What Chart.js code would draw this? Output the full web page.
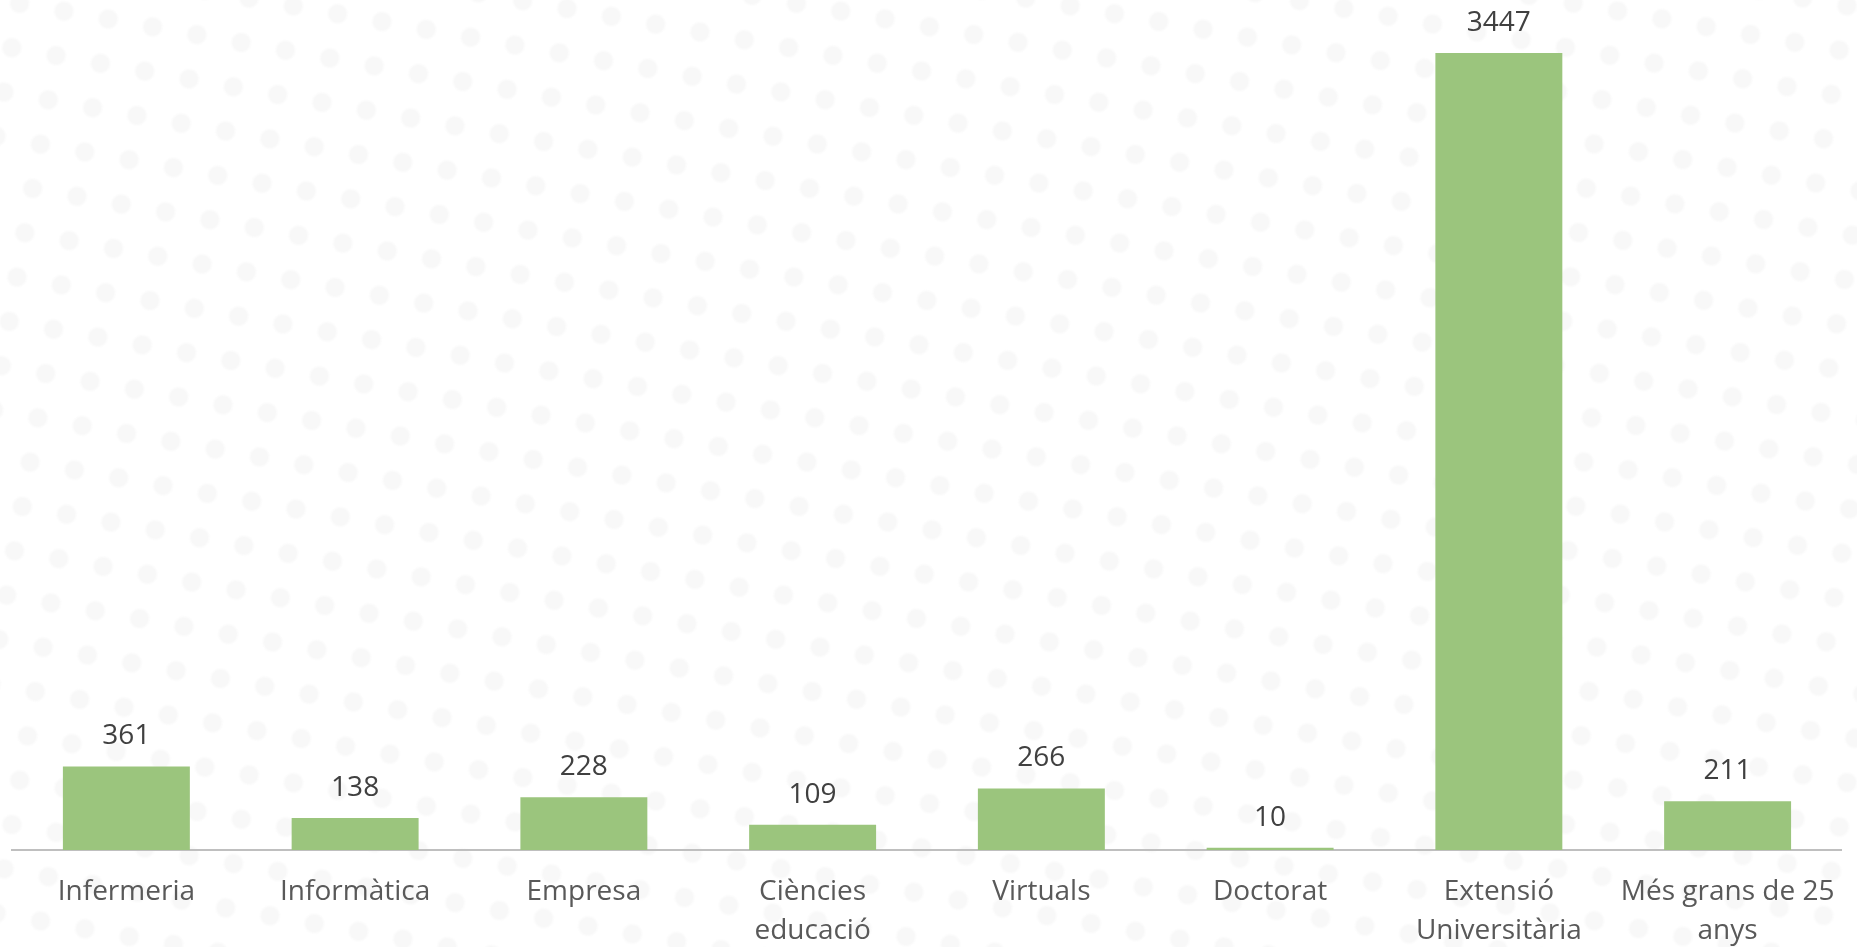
<!DOCTYPE html>
<html>
<head>
<meta charset="utf-8">
<script src="https://cdn.jsdelivr.net/npm/chart.js@4.4.0/dist/chart.umd.min.js"></script>
<style>
  html, body { margin: 0; padding: 0; background: #fff; overflow: hidden; }
  #wrap { position: relative; width: 1857px; height: 947px; overflow: hidden; }
  #dots {
    position: absolute; left: -300px; top: -300px; width: 2500px; height: 1600px;
    background-image: radial-gradient(circle, #f8f8f8 8px, rgba(255,255,255,0) 11px);
    background-size: 45px 45px;
    transform: rotate(10deg);
  }
  canvas { position: absolute; left: 0; top: 0; }
</style>
</head>
<body>
<div id="wrap">
  <div id="dots"></div>
  <canvas id="chart" width="1857" height="947"></canvas>
</div>
<script>
const categories = [
  'Infermeria',
  'Informàtica',
  'Empresa',
  ['Ciències', 'educació'],
  'Virtuals',
  'Doctorat',
  ['Extensió', 'Universitària'],
  ['Més grans de 25', 'anys']
];
const values = [361, 138, 228, 109, 266, 10, 3447, 211];

const fontFamily = '"Open Sans", Lato, sans-serif';

// draws the number above each bar
const valueLabels = {
  id: 'valueLabels',
  afterDatasetsDraw(chart) {
    const ctx = chart.ctx;
    const meta = chart.getDatasetMeta(0);
    ctx.save();
    ctx.font = '28px ' + fontFamily;
    ctx.fillStyle = '#404040';
    ctx.textAlign = 'center';
    ctx.textBaseline = 'middle';
    meta.data.forEach((bar, i) => {
      ctx.fillText(String(values[i]), bar.x, bar.y - 30);
    });
    ctx.restore();
  }
};

new Chart(document.getElementById('chart').getContext('2d'), {
  type: 'bar',
  data: {
    labels: categories,
    datasets: [{
      data: values,
      backgroundColor: '#9bc57d',
      categoryPercentage: 1,
      barPercentage: 0.555
    }]
  },
  options: {
    responsive: false,
    animation: false,
    layout: { padding: { left: 12, right: 9, top: 0, bottom: 0 } },
    plugins: { legend: { display: false }, tooltip: { enabled: false } },
    scales: {
      x: {
        grid: { display: false, drawTicks: false },
        border: { display: true, color: '#bfbfbf', width: 2 },
        ticks: {
          color: '#595959',
          font: { family: fontFamily, size: 28, lineHeight: 1.4 },
          padding: 22,
          maxRotation: 0,
          autoSkip: false
        },
        afterFit(scale) { scale.height = 97; }
      },
      y: {
        display: false,
        min: 0,
        max: 3676
      }
    }
  },
  plugins: [valueLabels]
});
</script>
</body>
</html>
